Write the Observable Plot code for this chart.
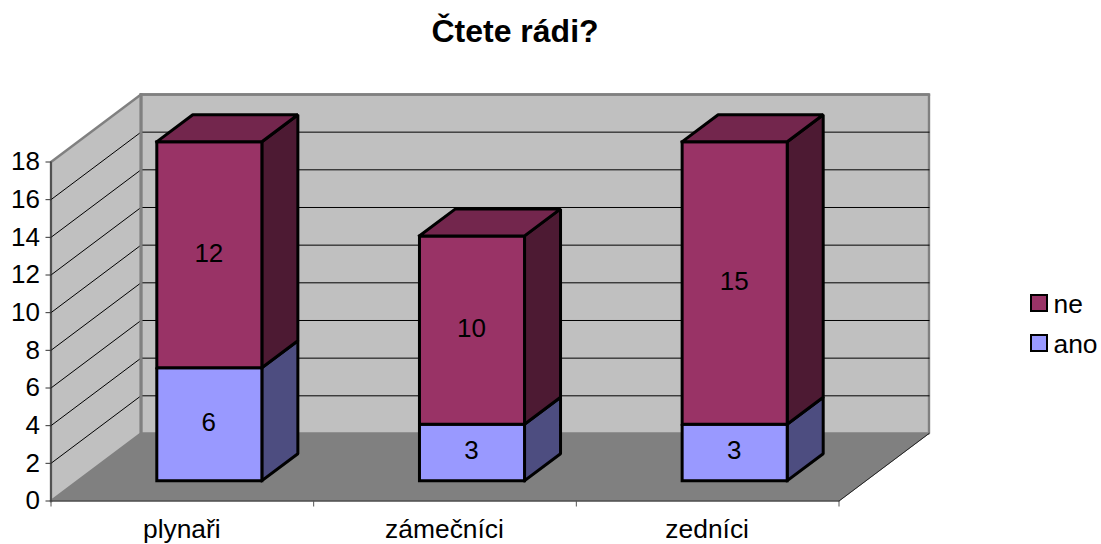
<!DOCTYPE html>
<html lang="cs">
<head>
<meta charset="utf-8">
<title>Čtete rádi?</title>
<script src="https://cdn.jsdelivr.net/npm/d3@7"></script>
<script src="https://cdn.jsdelivr.net/npm/@observablehq/plot@0.6"></script>
<style>
  html, body { margin: 0; padding: 0; background: #fff; }
  #page { position: relative; width: 1101px; height: 544px; overflow: hidden; font-family: "Liberation Sans", Arial, sans-serif; color: #000; }
  #page svg { position: absolute; left: 0; top: 0; overflow: visible; }
  #title { position: absolute; left: 0; width: 1030px; top: 13px; text-align: center; font-weight: bold; font-size: 32px; line-height: 36px; }
  .lg { position: absolute; left: 1029.5px; font-size: 26.4px; line-height: 26px; white-space: nowrap; }
  .lg i { position: absolute; left: 0; top: 0; width: 14px; height: 14px; border: 2.5px solid #000; }
  .lg span { position: absolute; left: 24px; top: -3px; }
</style>
</head>
<body>
<div id="page">
  <div id="title">Čtete rádi?</div>
  <div class="lg" style="top:294px"><i style="background:#993366"></i><span>ne</span></div>
  <div class="lg" style="top:334px"><i style="background:#9999ff"></i><span>ano</span></div>
</div>
<script>
const categories = ["plynaři", "zámečníci", "zedníci"];
const ano = [6, 3, 3];
const ne = [12, 10, 15];
const yTicks = [0, 2, 4, 6, 8, 10, 12, 14, 16, 18];
const gridTicks = [2, 4, 6, 8, 10, 12, 14, 16];

// Oblique depth, in data units of the two axes
const depthX = 90 / 262.67;
const depthY = 67.5 / 18.83;
const P = (x, y, d = 0) => ({x: x + d * depthX, y: y + d * depthY});
const poly = (pts, fill, stroke = "#000", strokeWidth = 3) =>
  Plot.line(pts, {x: "x", y: "y", fill, stroke, strokeWidth, strokeLinejoin: "miter", strokeLinecap: "square"});

const barW = 0.4, d0 = 0.3, d1 = 0.7;
function box(i, lo, hi, front, side, top) {
  const a = i + 0.5 - barW / 2, b = i + 0.5 + barW / 2;
  const out = [
    poly([P(b, lo, d0), P(b, lo, d1), P(b, hi, d1), P(b, hi, d0), P(b, lo, d0)], side),
    poly([P(a, lo, d0), P(b, lo, d0), P(b, hi, d0), P(a, hi, d0), P(a, lo, d0)], front)
  ];
  if (top) out.push(poly([P(a, hi, d0), P(b, hi, d0), P(b, hi, d1), P(a, hi, d1), P(a, hi, d0)], top));
  return out;
}

const bars = categories.flatMap((c, i) => [
  ...box(i, 0, ano[i], "#9999ff", "#4d4d80", null),
  ...box(i, ano[i], ano[i] + ne[i], "#993366", "#4d1a33", "#73264d")
]);

const labels = categories.flatMap((c, i) => [
  {x: P(i + 0.5, 0, d0).x, y: P(0, ano[i] / 2, d0).y, t: String(ano[i])},
  {x: P(i + 0.5, 0, d0).x, y: P(0, ano[i] + ne[i] / 2, d0).y, t: String(ne[i])}
]);

const chart = Plot.plot({
  width: 1101,
  height: 544,
  marginLeft: 50.5,
  marginRight: 262.5,
  marginTop: 161.5,
  marginBottom: 43.5,
  style: {background: "transparent", fontFamily: "'Liberation Sans', Arial, sans-serif", fontSize: "26px", color: "#000"},
  x: {domain: [0, 3]},
  y: {domain: [0, 18]},
  marks: [
    // walls and floor
    poly([P(0, 0, 1), P(3, 0, 1), P(3, 18, 1), P(0, 18, 1), P(0, 0, 1)], "#c0c0c0", "#808080", 2.4),
    poly([P(0, 0), P(0, 18), P(0, 18, 1), P(0, 0, 1), P(0, 0)], "#c0c0c0", "#808080", 2.4),
    poly([P(0, 0), P(3, 0), P(3, 0, 1), P(0, 0, 1), P(0, 0)], "#808080", "#808080", 1),
    // gridlines on both walls
    ...gridTicks.map(v => poly([P(0, v), P(0, v, 1), P(3, v, 1)], "none", "#000", 1)),
    poly([P(0, 18, 1), P(3, 18, 1)], "none", "#808080", 2.4),
    poly([P(0, 0, 1), P(0, 18, 1)], "none", "#808080", 3),
    poly([P(3, 0), P(3, 0, 1)], "none", "#222", 1),
    poly([P(0, 0), P(3, 0)], "none", "#333", 1.2),
    poly([P(0, 0), P(0, 18)], "none", "#333", 1.2),
    // bars
    ...bars,
    Plot.text(labels, {x: "x", y: "y", text: "t", fontSize: 26, fill: "#000", dx: -0.5, dy: -1.5}),
    // axes
    Plot.axisY({ticks: yTicks, tickSize: 5, tickPadding: 6, tickFormat: d => d, label: null, stroke: "#333", fontSize: 26, fill: "#000"}),
    Plot.axisX({ticks: [0, 1, 2, 3], tickSize: 6, tickFormat: () => "", label: null, stroke: "#555"}),
    Plot.axisX({ticks: [0.5, 1.5, 2.5], tickSize: 0, tickPadding: 18, dx: -0.5, tickFormat: d => categories[d - 0.5], label: null, fontSize: 26.4, fill: "#000"})
  ]
});
document.getElementById("page").prepend(chart);
</script>
</body>
</html>
